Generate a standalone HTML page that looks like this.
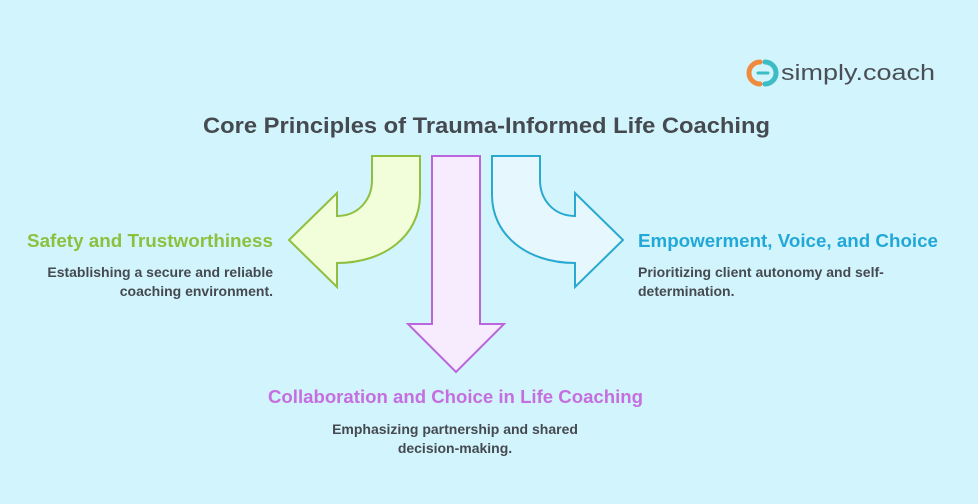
<!DOCTYPE html>
<html><head><meta charset="utf-8"><style>
html,body{margin:0;padding:0;background:#d2f4fd;}
svg{display:block;font-family:"Liberation Sans",Arial,sans-serif;}
</style></head><body>
<svg width="978" height="504" viewBox="0 0 978 504" xmlns="http://www.w3.org/2000/svg">
<rect width="978" height="504" fill="#d2f4fd"/>
<path d="M760,62 A9,9 0 0 0 760,84" fill="none" stroke="#f08a3c" stroke-width="5" stroke-linecap="round"/>
<path d="M765,62 A9,9 0 0 1 765,84" fill="none" stroke="#3cbcc4" stroke-width="5" stroke-linecap="round"/>
<path d="M758,73 H768" stroke="#3cbcc4" stroke-width="3" stroke-linecap="round"/>
<text x="781" y="80" font-size="22" fill="#4a4f55" textLength="154" lengthAdjust="spacingAndGlyphs">simply.coach</text>
<text x="203" y="133" font-size="22" font-weight="bold" fill="#454a50" textLength="567" lengthAdjust="spacingAndGlyphs">Core Principles of Trauma-Informed Life Coaching</text>
<path d="M372,156 H420 V195 C420,235 385,263 337,263 V287 L289,240 L337,193 V216 C358,216 372,200 372,180 Z" fill="#f2fdd9" stroke="#8fbf3f" stroke-width="2"/>
<path d="M432,156 H480 V324 H504 L456,372 L408,324 H432 Z" fill="#f7ecfd" stroke="#bb66dd" stroke-width="2"/>
<path d="M540,156 H492 V195 C492,235 527,263 575,263 V287 L623,240 L575,193 V216 C554,216 540,200 540,180 Z" fill="#e6f8fd" stroke="#2aa9d0" stroke-width="2"/>
<text x="27" y="247" font-size="18" font-weight="bold" fill="#8dc03f" textLength="246" lengthAdjust="spacingAndGlyphs">Safety and Trustworthiness</text>
<text x="273" y="277" font-size="14" font-weight="bold" fill="#454a50" text-anchor="end">Establishing a secure and reliable</text>
<text x="273" y="296" font-size="14" font-weight="bold" fill="#454a50" text-anchor="end">coaching environment.</text>
<text x="638" y="247" font-size="18" font-weight="bold" fill="#22a8d8" textLength="300" lengthAdjust="spacingAndGlyphs">Empowerment, Voice, and Choice</text>
<text x="638" y="277" font-size="14" font-weight="bold" fill="#454a50">Prioritizing client autonomy and self-</text>
<text x="638" y="296" font-size="14" font-weight="bold" fill="#454a50">determination.</text>
<text x="268" y="403" font-size="18" font-weight="bold" fill="#c56ee0" textLength="375" lengthAdjust="spacingAndGlyphs">Collaboration and Choice in Life Coaching</text>
<text x="455" y="434" font-size="14" font-weight="bold" fill="#454a50" text-anchor="middle">Emphasizing partnership and shared</text>
<text x="455" y="453" font-size="14" font-weight="bold" fill="#454a50" text-anchor="middle">decision-making.</text>
</svg>
</body></html>
